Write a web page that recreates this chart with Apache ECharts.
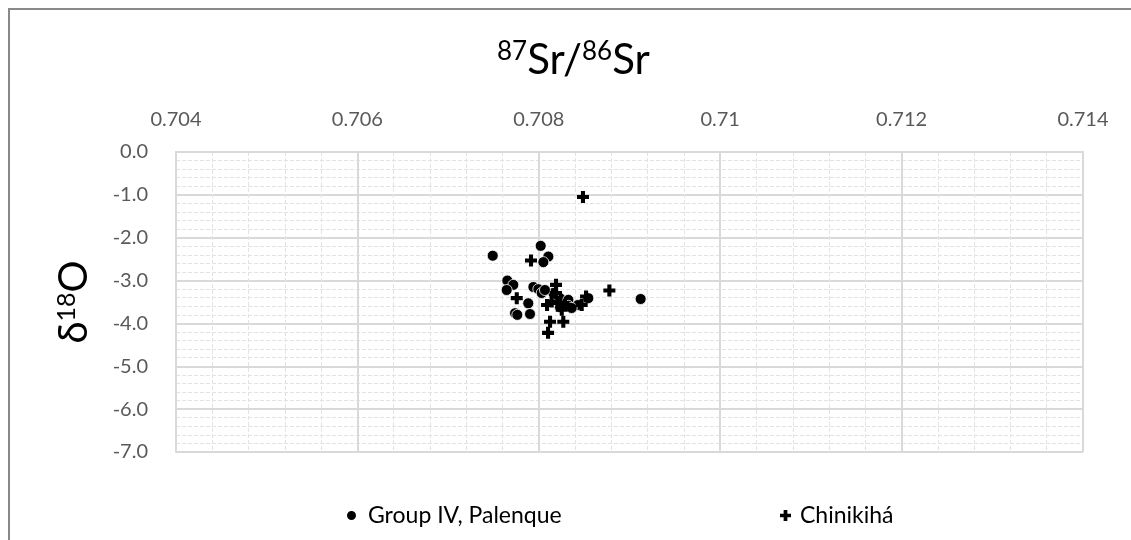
<!DOCTYPE html>
<html>
<head>
<meta charset="utf-8">
<title>87Sr/86Sr vs d18O</title>
<script src="https://cdn.jsdelivr.net/npm/echarts@6/dist/echarts.min.js"></script>
<style>
  html, body { margin: 0; padding: 0; background: #fff; }
  #chart { width: 1131px; height: 540px; }
</style>
</head>
<body>
<div id="chart"></div>
<script>
// tick labels
var xTickLabels = ["0.704", "0.706", "0.708", "0.71", "0.712", "0.714"];
var yTickLabels = ["-7.0", "-6.0", "-5.0", "-4.0", "-3.0", "-2.0", "-1.0", "0.0"];

// Group IV, Palenque: [87Sr/86Sr, d18O]
var palenqueSr = [0.707492, 0.708021, 0.708105, 0.708050, 0.707653, 0.707719, 0.707646,
  0.707940, 0.707995, 0.708032, 0.707884, 0.707738, 0.707763, 0.707903, 0.708234,
  0.708326, 0.708326, 0.708234, 0.708546, 0.709123, 0.708160, 0.708432, 0.708363, 0.708068];
var palenqueO = [-2.42, -2.19, -2.44, -2.57, -3.00, -3.10, -3.22,
  -3.15, -3.20, -3.29, -3.53, -3.76, -3.80, -3.78, -3.41,
  -3.45, -3.59, -3.62, -3.41, -3.43, -3.29, -3.57, -3.64, -3.22];

// Chinikihá
var chinikihaSr = [0.708487, 0.707914, 0.708190, 0.708190, 0.707757, 0.708142, 0.708212,
  0.708253, 0.708473, 0.708521, 0.708778, 0.708270, 0.708124, 0.708102, 0.708289, 0.708091];
var chinikihaO = [-1.05, -2.53, -3.10, -3.29, -3.41, -3.49, -3.52,
  -3.68, -3.57, -3.37, -3.23, -3.96, -3.96, -4.22, -3.57, -3.57];

function pairs(xs, ys) {
  var out = [];
  for (var i = 0; i < xs.length; i++) out.push([xs[i], ys[i]]);
  return out;
}

var plus = "path://M3.3,0H6.7V3.3H10V6.7H6.7V10H3.3V6.7H0V3.3H3.3Z";
var font = "Lato, 'Liberation Sans', sans-serif";
var gridColor = "#d9d9d9";

var chart = echarts.init(document.getElementById("chart"));
chart.setOption({
  backgroundColor: "#fff",
  animation: false,
  textStyle: { fontFamily: font },
  graphic: [{
    type: "rect",
    shape: { x: 9, y: 9, width: 1140, height: 560 },
    style: { fill: "none", stroke: "#898989", lineWidth: 2 },
    silent: true
  }],
  title: {
    text: "{sup|87}Sr/{sup|86}Sr",
    left: 492,
    top: 34,
    textStyle: {
      fontFamily: font,
      fontSize: 42,
      fontWeight: "normal",
      color: "#000",
      rich: {
        sup: { fontFamily: font, fontSize: 26, color: "#000", verticalAlign: "top", padding: [0, 0, 15, 0] }
      }
    }
  },
  legend: [{
    data: ["Group IV, Palenque"],
    left: 340,
    top: 499,
    itemWidth: 11,
    itemHeight: 11,
    textStyle: { fontFamily: font, fontSize: 23, color: "#000", padding: [0, 0, 0, 6] }
  }, {
    data: ["Chinikihá"],
    left: 775,
    top: 499,
    itemWidth: 11,
    itemHeight: 11,
    textStyle: { fontFamily: font, fontSize: 23, color: "#000", padding: [0, 0, 0, 4] }
  }],
  grid: {
    left: 176,
    top: 152,
    right: 48,
    bottom: 88,
    show: true,
    borderColor: gridColor,
    borderWidth: 1
  },
  xAxis: {
    type: "value",
    position: "top",
    min: 0.704,
    max: 0.714,
    interval: 0.002,
    axisLine: { show: true, lineStyle: { color: gridColor, width: 2 } },
    axisTick: { show: false },
    minorTick: { show: false, splitNumber: 5 },
    axisLabel: {
      margin: 22,
      fontSize: 20,
      color: "#595959",
      formatter: function (v, i) { return xTickLabels[i]; }
    },
    splitLine: { show: true, lineStyle: { color: gridColor, width: 2 } },
    minorSplitLine: { show: true, lineStyle: { color: "#e3e3e3", width: 1, type: "dashed" } }
  },
  yAxis: {
    type: "value",
    min: -7,
    max: 0,
    interval: 1,
    name: "δ{sup|18}O",
    nameLocation: "middle",
    nameRotate: 90,
    nameGap: 82,
    nameTextStyle: {
      fontFamily: font,
      fontSize: 40,
      color: "#000",
      rich: {
        sup: { fontFamily: font, fontSize: 25, color: "#000", verticalAlign: "top", padding: [0, 0, 15, 0] }
      }
    },
    axisLine: { show: true, lineStyle: { color: gridColor, width: 2 } },
    axisTick: { show: false },
    minorTick: { show: false, splitNumber: 5 },
    axisLabel: {
      margin: 28,
      fontSize: 20,
      color: "#595959",
      formatter: function (v, i) { return yTickLabels[i]; }
    },
    splitLine: { show: true, lineStyle: { color: gridColor, width: 2 } },
    minorSplitLine: { show: true, lineStyle: { color: "#e3e3e3", width: 1, type: "dashed" } }
  },
  series: [{
    name: "Group IV, Palenque",
    type: "scatter",
    symbol: "circle",
    symbolSize: 11,
    itemStyle: { color: "#000", borderColor: "#fff", borderWidth: 0.8, opacity: 1 },
    data: pairs(palenqueSr, palenqueO)
  }, {
    name: "Chinikihá",
    type: "scatter",
    symbol: plus,
    symbolSize: 12,
    itemStyle: { color: "#000", opacity: 1 },
    data: pairs(chinikihaSr, chinikihaO)
  }]
});
</script>
</body>
</html>
